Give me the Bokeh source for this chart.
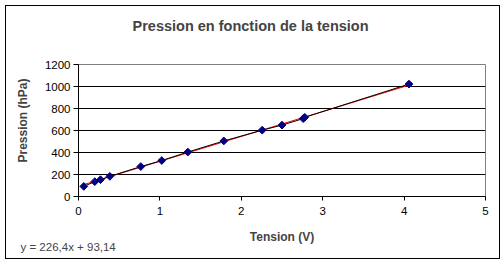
import math
from bokeh.plotting import figure
from bokeh.models import Range1d, FixedTicker, ColumnDataSource, Title, InlineStyleSheet
from bokeh.embed import file_html
from bokeh.resources import INLINE

# data
tension = [0.065, 0.20, 0.27, 0.385, 0.765, 1.023, 1.343, 1.785, 2.257, 2.50, 2.76, 2.78, 4.06]
pression = [92, 135, 153, 183, 272, 327, 404, 505, 603, 649, 708, 720, 1022]
slope = 226.4
intercept = 93.14
x_ticks = [0, 1, 2, 3, 4, 5]
y_ticks = [0, 200, 400, 600, 800, 1000, 1200]
title_text = "Pression en fonction de la tension"
x_label = "Tension (V)"
y_label = "Pression (hPa)"
eq_text = "y = 226,4x + 93,14"

FONT = "Liberation Sans"

p = figure(width=504, height=264, output_backend="svg", toolbar_location=None,
           x_range=Range1d(0, 5), y_range=Range1d(0, 1200),
           min_border_left=78, min_border_right=19, min_border_top=64, min_border_bottom=68)
p.stylesheets = [InlineStyleSheet(css=""":host { position: relative; }
:host::after { content: ""; position: absolute; left: 5px; top: 5px; width: 493px; height: 252px;
  border: 1px solid black; pointer-events: none; z-index: 100; }""")]
p.background_fill_color = "white"
p.border_fill_color = "white"
p.outline_line_color = "#808080"
p.outline_line_width = 1

# second (blank) line keeps the title high above the frame
p.title.text = title_text + "\n "
p.title.text_font = FONT
p.title.text_font_size = "14.5px"
p.title.text_font_style = "bold"
p.title.align = "left"
p.title.offset = 54
p.title.standoff = 30

p.xgrid.visible = False
p.ygrid.ticker = FixedTicker(ticks=y_ticks)
p.ygrid.grid_line_color = "black"
p.ygrid.grid_line_alpha = 1.0

for ax, ticks in ((p.xaxis[0], x_ticks), (p.yaxis[0], y_ticks)):
    ax.ticker = FixedTicker(ticks=ticks)
    ax.axis_line_color = "black"
    ax.major_tick_line_color = "black"
    ax.minor_tick_line_color = None
    ax.major_tick_in = 0
    ax.major_tick_out = 5
    ax.major_label_text_font = FONT
    ax.major_label_text_font_size = "11.5px"
    ax.major_label_text_color = "black"
    ax.axis_label_text_font = FONT
    ax.axis_label_text_font_size = "12px"
    ax.axis_label_text_font_style = "bold"
p.xaxis.major_tick_out = 4
p.xaxis.major_label_standoff = 6
p.yaxis.major_label_standoff = 3
p.xaxis.axis_label = x_label
p.xaxis.axis_label_standoff = 12

p.add_layout(Title(text=y_label, text_font=FONT, text_font_size="12px",
                   text_font_style="bold", align="left", offset=34, standoff=23), "left")

p.add_layout(Title(text=eq_text, text_font=FONT, text_font_size="11.5px",
                   text_font_style="normal", align="left", offset=-58, standoff=-12,
                   vertical_align="top"), "below")

# trendline
tx = [min(tension), max(tension)]
ty = [slope * v + intercept for v in tx]
p.line(tx, ty, line_color="red", line_width=1)

src = ColumnDataSource(dict(x=tension, y=pression))
p.line("x", "y", source=src, line_color="black", line_width=1)
p.scatter("x", "y", source=src, marker="square", size=5.5, angle=math.pi / 4,
          fill_color="#000080", line_color="#000080")

open("out.html", "w").write(file_html(p, INLINE))
